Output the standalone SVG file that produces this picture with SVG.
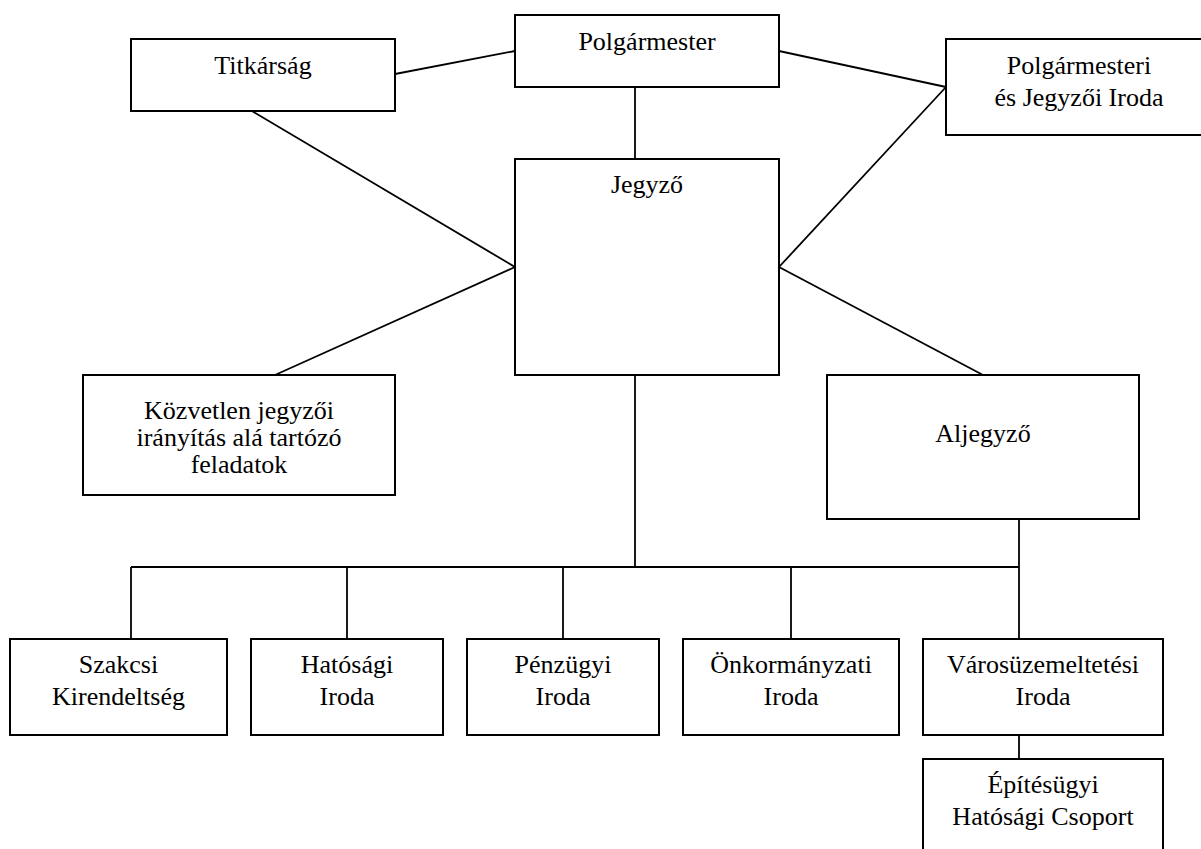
<svg xmlns="http://www.w3.org/2000/svg" width="1201" height="849" viewBox="0 0 1201 849">
<style>
rect.box{fill:#fff;stroke:#000;stroke-width:2}
text{font-family:"Liberation Serif","Times New Roman","DejaVu Serif",serif;font-size:26px;fill:#000;text-anchor:middle}
#connectors line{stroke:#000;stroke-width:1.8;fill:none}
</style>
<rect width="1201" height="849" fill="#fff"/>
<g id="connectors">
<line x1="395" y1="74" x2="515" y2="51"/>
<line x1="779" y1="51" x2="946" y2="87"/>
<line x1="635" y1="87" x2="635" y2="159"/>
<line x1="252" y1="111" x2="515" y2="267"/>
<line x1="946" y1="87" x2="779" y2="267"/>
<line x1="515" y1="267" x2="275" y2="375"/>
<line x1="779" y1="267" x2="983" y2="375"/>
<line x1="635" y1="375" x2="635" y2="567"/>
<line x1="1019" y1="519" x2="1019" y2="639"/>
<line x1="131" y1="567" x2="1019" y2="567"/>
<line x1="131" y1="567" x2="131" y2="639"/>
<line x1="347" y1="567" x2="347" y2="639"/>
<line x1="563" y1="567" x2="563" y2="639"/>
<line x1="791" y1="567" x2="791" y2="639"/>
<line x1="1019" y1="735" x2="1019" y2="759"/>
</g>
<g id="polgarmester"><rect class="box" x="515" y="15" width="264" height="72"/><text x="647" y="50">Polgármester</text></g>
<g id="titkarsag"><rect class="box" x="131" y="39" width="264" height="72"/><text x="263" y="74">Titkárság</text></g>
<g id="polgarmesteri-iroda"><rect class="box" x="946" y="39" width="266" height="96"/><text x="1079" y="74">Polgármesteri</text><text x="1079" y="106">és Jegyzői Iroda</text></g>
<g id="jegyzo"><rect class="box" x="515" y="159" width="264" height="216"/><text x="647" y="193">Jegyző</text></g>
<g id="kozvetlen"><rect class="box" x="83" y="375" width="312" height="120"/><text x="239" y="419">Közvetlen jegyzői</text><text x="239" y="446">irányítás alá tartózó</text><text x="239" y="473">feladatok</text></g>
<g id="aljegyzo"><rect class="box" x="827" y="375" width="312" height="144"/><text x="983" y="442">Aljegyző</text></g>
<g id="szakcsi"><rect class="box" x="10" y="639" width="217" height="96"/><text x="118.5" y="673">Szakcsi</text><text x="118.5" y="705">Kirendeltség</text></g>
<g id="hatosagi"><rect class="box" x="251" y="639" width="192" height="96"/><text x="347" y="673">Hatósági</text><text x="347" y="705">Iroda</text></g>
<g id="penzugyi"><rect class="box" x="467" y="639" width="192" height="96"/><text x="563" y="673">Pénzügyi</text><text x="563" y="705">Iroda</text></g>
<g id="onkormanyzati"><rect class="box" x="683" y="639" width="216" height="96"/><text x="791" y="673">Önkormányzati</text><text x="791" y="705">Iroda</text></g>
<g id="varosuzemeltetesi"><rect class="box" x="923" y="639" width="240" height="96"/><text x="1043" y="673">Városüzemeltetési</text><text x="1043" y="705">Iroda</text></g>
<g id="epitesugyi"><rect class="box" x="923" y="759" width="240" height="96"/><text x="1043" y="793">Építésügyi</text><text x="1043" y="825">Hatósági Csoport</text></g>
</svg>
